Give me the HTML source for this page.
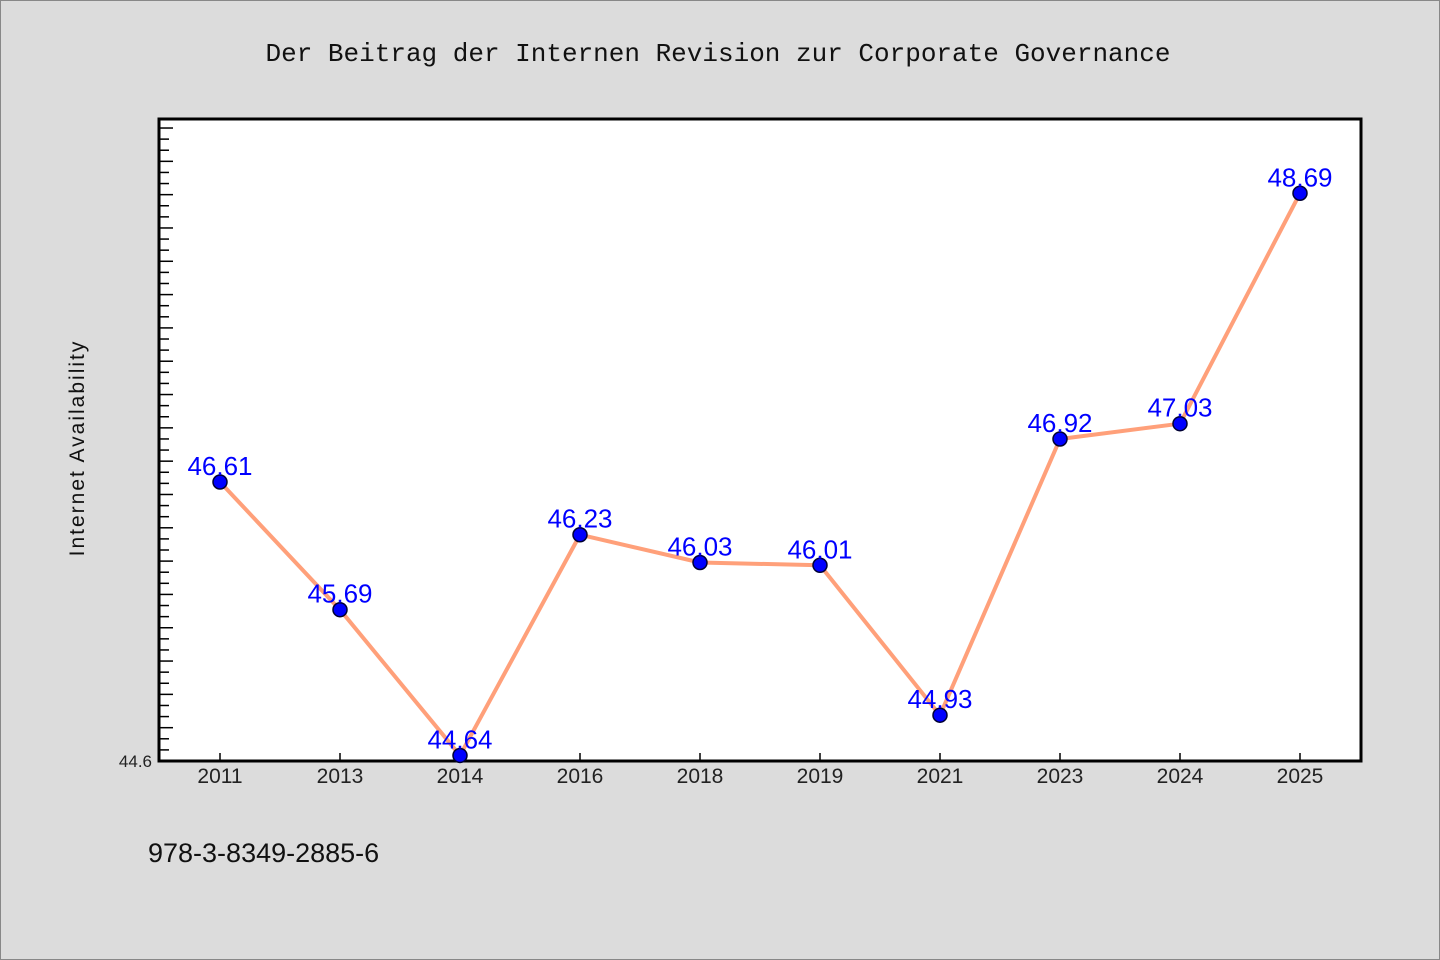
<!DOCTYPE html>
<html><head><meta charset="utf-8"><style>
html,body{margin:0;padding:0;background:#dcdcdc;}
svg{display:block;}
</style></head><body>
<svg width="1440" height="960" xmlns="http://www.w3.org/2000/svg">
<rect x="0.5" y="0.5" width="1439" height="959" fill="#dcdcdc" stroke="#888"/>
<text x="718" y="61" text-anchor="middle" font-family="Liberation Mono, monospace" font-size="26" fill="#111">Der Beitrag der Internen Revision zur Corporate Governance</text>
<rect x="159" y="119" width="1202" height="642" fill="#fff" stroke="#000" stroke-width="3"/>
<g id="ticks"></g>
<text transform="translate(84,448) rotate(-90)" text-anchor="middle" font-family="'WenQuanYi Zen Hei', 'Liberation Sans', sans-serif" font-size="21" fill="#111" letter-spacing="2">Internet Availability</text>
<text x="152" y="767" text-anchor="end" font-family="'WenQuanYi Zen Hei', 'Liberation Sans', sans-serif" font-size="17" fill="#222">44.6</text>
<g id="xlabels"></g>
<polyline id="line" fill="none" stroke="#ffa07a" stroke-width="4" stroke-linejoin="round"/>
<g id="points"></g>
<text x="148" y="862" font-family="'WenQuanYi Zen Hei', 'Liberation Sans', sans-serif" font-size="27" fill="#111">978-3-8349-2885-6</text>
</svg>
<script>
const categories = ["2011","2013","2014","2016","2018","2019","2021","2023","2024","2025"];
const values = [46.61,45.69,44.64,46.23,46.03,46.01,44.93,46.92,47.03,48.69];
const yMin = 44.6, yMax = 49.225;
const NS = "http://www.w3.org/2000/svg";
const plotL = 159, plotR = 1361, plotT = 119, plotB = 761;
function xPos(i){ return 220 + i * 120; }
function yPos(v){ return plotB - (v - yMin) / (yMax - yMin) * (plotB - plotT); }
const ticks = document.getElementById('ticks');
for (let k = 1; ; k++) {
  const v = yMin + k * 0.08;
  if (v >= yMax) break;
  const y = yPos(v);
  const t = document.createElementNS(NS, 'line');
  
  
  const len = (k % 3 === 0) ? 14 : 10;
  t.setAttribute('x1', plotL); t.setAttribute('x2', plotL + len);
  t.setAttribute('y1', y); t.setAttribute('y2', y);
  t.setAttribute('stroke', '#000'); t.setAttribute('stroke-width', '1.5');
  ticks.appendChild(t);
}
const xl = document.getElementById('xlabels');
const pts = document.getElementById('points');
let pstr = [];
categories.forEach((c, i) => {
  const x = xPos(i), y = yPos(values[i]);
  pstr.push(x + ',' + y);
  const tk = document.createElementNS(NS, 'line');
  
  
  tk.setAttribute('x1', x); tk.setAttribute('x2', x); tk.setAttribute('y1', plotB); tk.setAttribute('y2', plotB - 8);
  tk.setAttribute('stroke', '#000'); tk.setAttribute('stroke-width', '1.5');
  xl.appendChild(tk);
  const t = document.createElementNS(NS, 'text');
  
  
  t.setAttribute('x', x); t.setAttribute('y', 783);
  t.setAttribute('text-anchor', 'middle');
  t.setAttribute('font-family', "'WenQuanYi Zen Hei', 'Liberation Sans', sans-serif");
  t.setAttribute('font-size', '21'); t.setAttribute('fill', '#222');
  t.textContent = c;
  xl.appendChild(t);
});
document.getElementById('line').setAttribute('points', pstr.join(' '));
values.forEach((v, i) => {
  const x = xPos(i), y = yPos(v);
  const c = document.createElementNS(NS, 'circle');
  
  
  c.setAttribute('cx', x); c.setAttribute('cy', y); c.setAttribute('r', 7);
  c.setAttribute('fill', '#0000ff'); c.setAttribute('stroke', '#000033'); c.setAttribute('stroke-width', '1.5');
  pts.appendChild(c);
  const t = document.createElementNS(NS, 'text');
  
  
  t.setAttribute('x', x); t.setAttribute('y', y - 7);
  t.setAttribute('text-anchor', 'middle');
  t.setAttribute('font-family', "'WenQuanYi Zen Hei', 'Liberation Sans', sans-serif");
  t.setAttribute('font-size', '26'); t.setAttribute('fill', '#0000ff');
  t.textContent = v.toFixed(2);
  pts.appendChild(t);
});
</script>
</body></html>
